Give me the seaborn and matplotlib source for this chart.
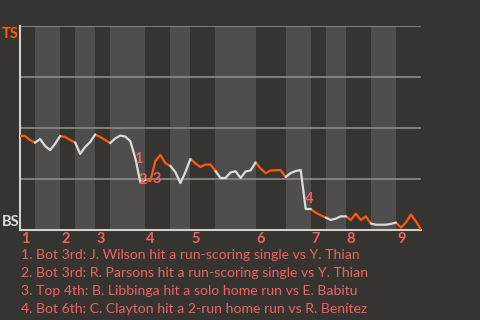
import matplotlib
matplotlib.use("Agg")
import matplotlib.pyplot as plt
import seaborn as sns
import pandas as pd
import numpy as np

# ---- data ----
wp = [0.461, 0.461, 0.441, 0.428, 0.446, 0.412, 0.392, 0.422, 0.461, 0.456,
      0.441, 0.429, 0.373, 0.407, 0.431, 0.468, 0.456, 0.441, 0.426, 0.449,
      0.463, 0.458, 0.436, 0.353, 0.235, 0.245, 0.240, 0.338, 0.368, 0.328,
      0.314, 0.284, 0.230, 0.284, 0.348, 0.326, 0.309, 0.321, 0.321, 0.289,
      0.255, 0.255, 0.282, 0.288, 0.255, 0.287, 0.292, 0.331, 0.301, 0.279,
      0.292, 0.293, 0.293, 0.260, 0.279, 0.289, 0.294, 0.103, 0.103, 0.085,
      0.072, 0.061, 0.049, 0.056, 0.067, 0.067, 0.049, 0.080, 0.049, 0.066,
      0.032, 0.026, 0.026, 0.026, 0.030, 0.036, 0.012, 0.037, 0.076, 0.042,
      0.003]
half_bounds = [0, 3, 8, 11, 15, 18, 25, 30, 34, 39, 47, 53, 58, 61, 65, 70, 75, 80]
inning_labels = ["1", "2", "3", "4", "5", "6", "7", "8", "9"]
event_marks = ["1", "2", "3", "4"]
event_x = [23.55, 24.55, 27.35, 57.7]
event_y = [0.348, 0.245, 0.250, 0.152]
notes = [
    "1. Bot 3rd: J. Wilson hit a run-scoring single vs Y. Thian",
    "2. Bot 3rd: R. Parsons hit a run-scoring single vs Y. Thian",
    "3. Top 4th: B. Libbinga hit a solo home run vs E. Babitu",
    "4. Bot 6th: C. Clayton hit a 2-run home run vs R. Benítez",
]
top_team, bot_team = "TS", "BS"

# ---- style ----
BG = "#363430"
BAND = "#4f4e4c"
ORANGE = "#ff5a0a"
WHITE = "#dcdcdc"
SALMON = "#f06262"
GRID = "#8c8c8a"

sns.set_theme(style="white")
plt.rcParams["font.family"] = ["Lato", "DejaVu Sans"]

rows = []
for k in range(len(half_bounds) - 1):
    a, b = half_bounds[k], half_bounds[k + 1]
    side = "top" if k % 2 == 0 else "bot"
    for i in range(a, b + 1):
        rows.append({"event": i, "wp": wp[i], "seg": k, "side": side})
df = pd.DataFrame(rows)

fig = plt.figure(figsize=(4.8, 3.2), dpi=100, facecolor=BG)
ax = fig.add_axes([20 / 480, 1 - 230 / 320, 401 / 480, 204 / 320])
ax.set_facecolor(BG)

for k in range(1, len(half_bounds) - 1, 2):
    ax.axvspan(half_bounds[k], half_bounds[k + 1], color=BAND, lw=0, zorder=0)

for yv in [0.25, 0.5, 0.75, 1.0]:
    ax.axhline(yv, color=GRID, lw=1.2, zorder=1)

sns.lineplot(data=df, x="event", y="wp", units="seg", hue="side",
             estimator=None, palette={"top": ORANGE, "bot": WHITE},
             legend=False, lw=1.6, ax=ax, zorder=3)

for m, x, y in zip(event_marks, event_x, event_y):
    ax.text(x, y, m, color=SALMON, fontsize=10.5, fontweight="bold",
            ha="center", va="center", zorder=4)

ax.set_xlim(half_bounds[0], half_bounds[-1])
ax.set_ylim(0, 1)
ax.set_xticks([])
ax.set_yticks([])
ax.set_xlabel("")
ax.set_ylabel("")
for s in ["top", "right"]:
    ax.spines[s].set_visible(False)
for s in ["left", "bottom"]:
    ax.spines[s].set_color("#d0d0d0")
    ax.spines[s].set_linewidth(1.5)

tr = ax.get_xaxis_transform()
for lab, k in zip(inning_labels, half_bounds[0::2]):
    ax.text(k + 0.2, -0.012, lab, transform=tr, color=SALMON, fontsize=10.5,
            fontweight="bold", ha="left", va="top")

fig.text(2 / 480, 1 - 27 / 320, top_team, color=ORANGE, fontsize=10.5,
         fontweight="bold", ha="left", va="top")
fig.text(2 / 480, 1 - 226.5 / 320, bot_team, color=WHITE, fontsize=10.5,
         fontweight="bold", ha="left", va="baseline")

for j, n in enumerate(notes):
    fig.text(21 / 480, 1 - (259.3 + 17.8 * j) / 320, n, color=SALMON,
             fontsize=10.1, ha="left", va="baseline")

fig.savefig("out.png", dpi=100, facecolor=BG)
